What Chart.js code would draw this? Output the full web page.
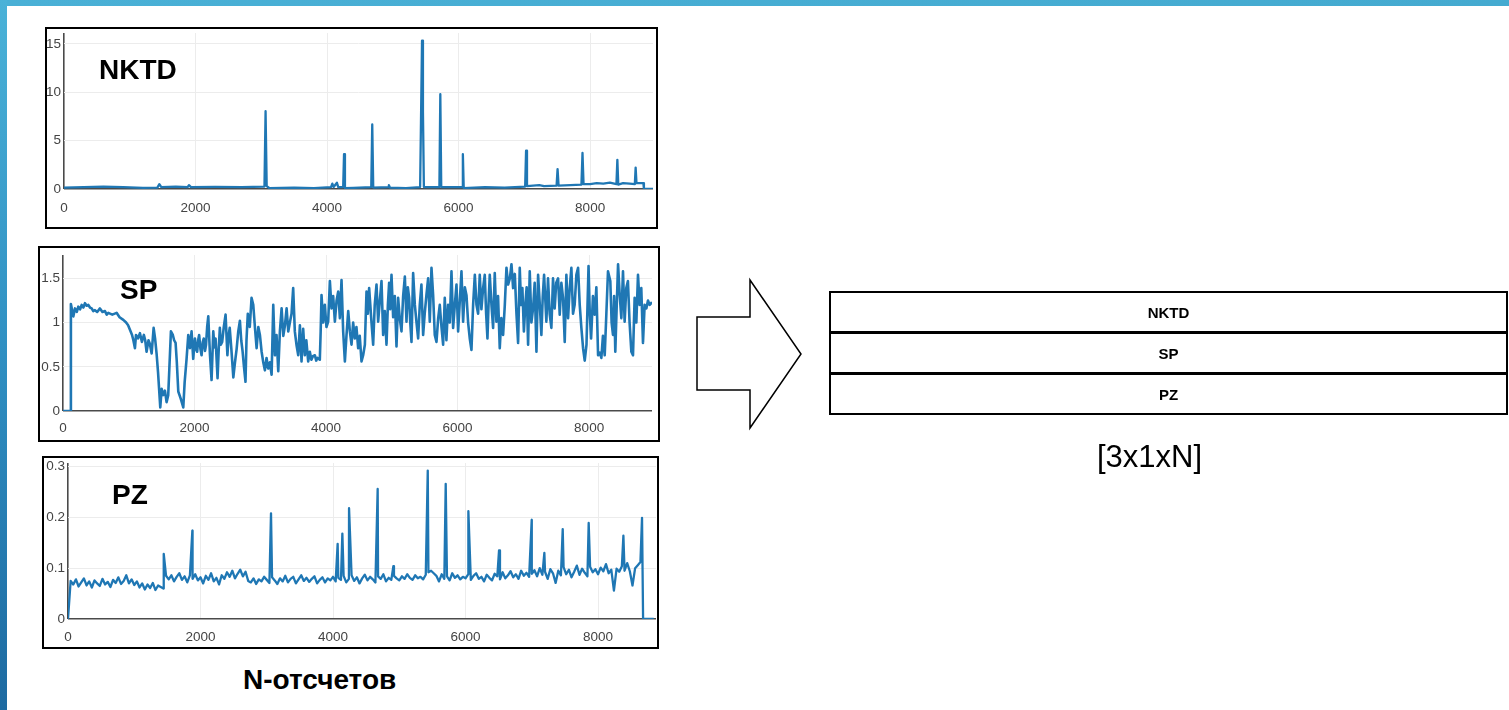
<!DOCTYPE html>
<html>
<head>
<meta charset="utf-8">
<script src="https://cdn.jsdelivr.net/npm/chart.js@4.4.1/dist/chart.umd.min.js"></script>
<style>
  html, body { margin: 0; padding: 0; background: #fff; }
  body { width: 1509px; height: 710px; position: relative; overflow: hidden; font-family: "Liberation Sans", Arial, sans-serif; }
  .abs { position: absolute; }
  .box { position: absolute; border: 2px solid #000; box-sizing: border-box; background: #fff; }
  .box canvas { position: absolute; left: 0; top: 0; }
  .title { position: absolute; font-weight: bold; font-size: 28px; line-height: 28px; color: #000; white-space: nowrap; }
  #topbar { left: 0; top: 0; width: 1509px; height: 6px; background: linear-gradient(to right, #49b0d6, #44aad0); }
  #leftbar { left: 0; top: 0; width: 7px; height: 710px; background: linear-gradient(to bottom, #4ab2d8, #2f8fc2 50%, #1d6aa1); }
  #tensor { left: 829px; top: 291px; width: 679px; height: 124px; border: 2px solid #000; box-sizing: border-box; }
  #tensor .row { height: 38px; display: flex; align-items: center; justify-content: center; font-weight: bold; font-size: 15px; color: #000; }
  #tensor .sep { height: 3px; background: #000; }
</style>
</head>
<body>
<div id="topbar" class="abs"></div>
<div id="leftbar" class="abs"></div>

<div class="box" style="left:45px; top:27px; width:613px; height:202px;"><canvas id="c1" width="609" height="198"></canvas></div>
<div class="box" style="left:38px; top:246px; width:622px; height:196px;"><canvas id="c2" width="618" height="192"></canvas></div>
<div class="box" style="left:42px; top:456px; width:617px; height:193px;"><canvas id="c3" width="613" height="189"></canvas></div>

<div class="title" style="left:99px; top:56px;">NKTD</div>
<div class="title" style="left:120px; top:276px;">SP</div>
<div class="title" style="left:112px; top:481px;">PZ</div>
<div class="title" style="left:243px; top:666px;">N-отсчетов</div>

<svg class="abs" style="left:0; top:0;" width="1509" height="710">
  <polygon points="697,317 750,317 750,280 801,354 750,428 750,390 697,390" fill="#fff" stroke="#000" stroke-width="1.5" stroke-linejoin="miter"/>
</svg>

<div id="tensor" class="abs">
  <div class="row">NKTD</div>
  <div class="sep"></div>
  <div class="row">SP</div>
  <div class="sep"></div>
  <div class="row">PZ</div>
</div>
<div class="abs" style="left:1097px; top:441px; font-size:31px; line-height:31px; color:#000; white-space:nowrap;">[3x1xN]</div>

<script>
// ---------- data ----------
const xTicks = [0, 2000, 4000, 6000, 8000];
const nktdTicks = [0, 5, 10, 15];
const spTicks = [0, 0.5, 1, 1.5];
const pzTicks = [0, 0.1, 0.2, 0.3];

const nktdX = [0,300,600,900,1200,1420,1450,1480,1700,1880,1900,1930,2300,2700,3048,3065,3082,3120,3500,3800,4060,4080,4100,4150,4170,4245,4258,4272,4400,4672,4687,4702,4930,4940,4955,5200,5415,5430,5444,5458,5472,5708,5722,5736,6052,6065,6078,6400,6700,7012,7026,7040,7227,7300,7490,7505,7520,7700,7868,7884,7900,8000,8100,8200,8300,8400,8414,8428,8500,8600,8680,8692,8705,8810,8818,8956];
const nktdY = [0.15,0.2,0.25,0.2,0.12,0.15,0.5,0.2,0.25,0.2,0.4,0.2,0.22,0.2,0.25,8.05,0.3,0.1,0.15,0.1,0.2,0.55,0.2,0.65,0.2,0.2,3.6,0.1,0.12,0.2,6.67,0.15,0.2,0.4,0.15,0.1,0.2,8.0,15.35,8.0,0.2,0.2,9.8,0.2,0.2,3.6,0.1,0.2,0.15,0.25,3.96,0.3,0.4,0.3,0.35,2.05,0.35,0.4,0.45,3.72,0.5,0.5,0.6,0.55,0.65,0.5,3.02,0.45,0.6,0.55,0.5,2.22,0.6,0.6,0.02,0.02];

// SP: [sample, value]
const spPairs = [[0,0],[110,0],[120,1.21],[157,1.07],[182,1.16],[210,1.12],[233,1.18],[260,1.15],[284,1.2],[310,1.17],[334,1.22],[360,1.19],[385,1.2],[410,1.17],[436,1.16],[460,1.13],[486,1.14],[520,1.12],[562,1.16],[600,1.12],[638,1.13],[665,1.09],[689,1.11],[750,1.09],[815,1.11],[860,1.06],[917,1.03],[960,1.0],[990,0.97],[1018,0.92],[1050,0.86],[1070,0.8],[1094,0.71],[1110,0.86],[1140,0.82],[1170,0.88],[1200,0.78],[1230,0.86],[1250,0.8],[1271,0.67],[1300,0.8],[1320,0.76],[1348,0.65],[1378,0.94],[1400,0.82],[1423,0.65],[1445,0.44],[1479,0.04],[1500,0.25],[1525,0.18],[1550,0.23],[1575,0.1],[1600,0.18],[1616,0.46],[1641,0.9],[1670,0.86],[1690,0.8],[1712,0.77],[1730,0.56],[1753,0.22],[1790,0.14],[1829,0.04],[1850,0.33],[1879,0.59],[1905,0.86],[1930,0.71],[1955,0.9],[1980,0.59],[2006,0.82],[2023,0.7],[2040,0.67],[2055,0.8],[2070,0.86],[2090,0.7],[2107,0.63],[2125,0.78],[2140,0.82],[2160,0.68],[2175,0.75],[2192,0.95],[2209,1.07],[2235,0.63],[2259,0.35],[2285,0.9],[2303,0.72],[2320,0.82],[2350,0.37],[2368,0.7],[2385,0.94],[2400,0.75],[2420,0.78],[2445,0.95],[2472,1.09],[2500,0.63],[2518,0.85],[2535,0.94],[2560,0.7],[2590,0.38],[2615,0.55],[2640,0.7],[2665,0.9],[2690,1.02],[2710,0.8],[2730,0.68],[2752,0.5],[2775,0.33],[2790,0.8],[2810,1.1],[2840,0.95],[2867,1.28],[2893,1.2],[2918,0.95],[2944,0.71],[2970,0.95],[2994,0.86],[3020,0.67],[3045,0.55],[3070,0.46],[3095,0.6],[3120,0.48],[3146,0.55],[3172,0.41],[3197,1.2],[3222,0.63],[3247,0.86],[3273,0.45],[3298,0.9],[3324,1.16],[3350,0.85],[3375,0.97],[3400,1.16],[3425,0.9],[3450,1.0],[3475,1.1],[3500,1.39],[3525,0.9],[3550,0.75],[3577,0.63],[3602,0.97],[3627,0.56],[3652,0.93],[3677,0.63],[3700,0.8],[3728,0.56],[3753,0.67],[3777,0.58],[3800,0.62],[3830,0.63],[3850,0.57],[3870,0.6],[3905,0.58],
[3918,0.9],[3931,1.31],[3956,1.0],[3981,1.2],[4006,0.95],[4032,1.01],[4058,1.47],[4083,1.16],[4108,1.3],[4134,1.01],[4160,1.25],[4185,1.35],[4210,1.05],[4235,1.48],[4260,0.9],[4286,0.56],[4310,0.85],[4337,1.13],[4362,0.9],[4387,0.75],[4412,1.0],[4437,0.82],[4462,0.95],[4488,0.71],[4512,0.85],[4539,0.56],[4564,0.63],[4590,0.75],[4615,1.35],[4635,1.1],[4655,1.39],[4690,1.01],[4716,0.75],[4740,1.2],[4767,1.43],[4792,1.01],[4818,1.25],[4843,1.47],[4868,0.86],[4893,1.13],[4919,0.75],[4940,1.2],[4959,1.45],[4975,1.15],[4995,1.54],[5020,1.06],[5045,1.3],[5071,0.73],[5096,1.28],[5120,1.05],[5147,0.9],[5172,1.3],[5198,1.52],[5223,1.01],[5243,1.4],[5263,1.28],[5280,1.0],[5299,0.78],[5324,1.56],[5350,1.2],[5374,1.01],[5400,0.82],[5425,1.2],[5450,1.43],[5476,0.86],[5500,1.1],[5526,1.31],[5552,1.5],[5577,1.01],[5603,1.62],[5628,1.31],[5653,0.86],[5679,0.78],[5705,1.05],[5729,1.2],[5755,0.95],[5780,0.75],[5805,1.28],[5830,0.8],[5855,1.2],[5881,1.0],[5907,1.58],[5932,0.94],[5958,1.2],[5983,1.43],[6008,0.9],[6034,1.25],[6059,1.58],[6084,1.01],[6110,1.4],[6135,1.31],[6160,1.0],[6185,0.82],[6211,0.69],[6236,1.2],[6262,1.54],[6287,1.2],[6312,1.1],[6337,1.54],[6362,1.15],[6388,1.39],[6413,1.54],[6434,1.1],[6454,0.82],[6470,1.2],[6489,1.54],[6515,1.2],[6540,0.94],[6565,1.56],[6590,1.01],[6615,1.3],[6641,0.71],[6665,1.05],[6692,0.86],[6718,1.2],[6743,1.62],[6768,1.43],[6795,1.5],[6819,1.66],[6844,1.39],[6870,1.55],[6895,1.1],[6920,0.77],[6945,1.62],[6965,1.2],[6985,1.39],[7008,0.9],[7030,1.2],[7050,1.4],[7072,0.75],[7097,1.58],[7122,1.0],[7148,1.16],[7172,1.45],[7199,0.67],[7224,1.54],[7250,1.2],[7274,0.86],[7295,1.3],[7315,1.54],[7350,1.01],[7375,1.5],[7400,1.1],[7426,0.94],[7451,1.5],[7476,1.16],[7500,1.45],[7528,1.5],[7553,1.09],[7578,1.45],[7603,1.28],[7629,0.78],[7654,1.54],[7680,1.05],[7705,1.39],[7730,1.62],[7755,1.1],[7780,1.2],[7806,1.54],[7832,1.62],[7857,1.2],[7882,0.94],[7908,0.71],[7933,0.57],[7960,0.75],[7991,1.64],[8010,1.1],[8030,0.82],[8058,1.3],[8085,1.09],[8110,1.4],[8136,0.63],[8161,0.66],[8186,0.6],[8210,0.85],[8237,0.63],[8262,1.1],[8287,1.58],[8322,1.47],[8342,1.0],[8363,0.86],[8380,1.3],[8398,0.67],[8420,1.2],[8440,1.66],[8465,1.31],[8490,1.05],[8515,1.58],[8540,1.01],[8565,1.39],[8590,1.47],[8615,1.0],[8642,0.67],[8667,0.63],[8692,1.28],[8718,1.0],[8743,1.54],[8768,1.2],[8793,1.39],[8819,0.77],[8844,1.2],[8870,1.16],[8895,1.25],[8920,1.2],[8956,1.23]];

// PZ: baseline sampled every pzStep counts, plus the narrow peaks
const pzStep = 40;
const pzBase = [
  0,0.075,0.068,0.078,0.064,0.072,0.08,0.066,0.074,0.062,0.076,0.07,0.065,0.079,0.068,0.073,0.063,0.077,0.071,0.082,0.069,0.075,0.086,0.07,0.078,
  0.067,0.074,0.062,0.07,0.058,0.068,0.061,0.071,0.057,0.066,0.063,0.06,0.085,0.078,0.086,0.074,0.083,0.09,0.077,0.084,0.072,0.086,0.079,0.088,0.076,
  0.082,0.07,0.085,0.077,0.09,0.074,0.081,0.068,0.086,0.079,0.092,0.083,0.095,0.08,0.089,0.097,0.084,0.093,0.075,0.072,0.08,0.069,0.078,0.074,0.083,
  0.077,0.071,0.082,0.076,0.069,0.08,0.074,0.085,0.072,0.079,0.083,0.07,0.078,0.086,0.075,0.081,0.073,0.079,0.084,0.07,0.077,0.082,0.072,0.08,0.076,
  0.083,0.074,0.081,0.077,0.085,0.072,0.079,0.086,0.075,0.082,0.07,0.08,0.087,0.076,0.083,0.078,0.072,0.084,0.079,0.088,0.074,0.081,0.077,0.085,0.08,
  0.076,0.084,0.079,0.088,0.081,0.077,0.086,0.08,0.083,0.078,0.087,0.092,0.095,0.09,0.085,0.074,0.088,0.079,0.084,0.076,0.09,0.081,0.086,0.078,0.083,
  0.08,0.088,0.077,0.085,0.09,0.079,0.083,0.074,0.087,0.081,0.076,0.089,0.084,0.078,0.092,0.08,0.086,0.094,0.082,0.088,0.079,0.095,0.085,0.091,0.083,
  0.089,0.096,0.084,0.1,0.087,0.093,0.079,0.098,0.09,0.071,0.095,0.086,0.102,0.088,0.097,0.082,0.093,0.105,0.087,0.099,0.091,0.084,0.103,0.092,0.098,
  0.088,0.101,0.094,0.108,0.09,0.097,0.056,0.099,0.093,0.104,0.095,0.11,0.094,0.066,0.1,0.106,0.112,0,0,0,0,0
];
const pzPeakX = [1445,1877,3064,4070,4141,4242,4674,4911,5430,5701,6043,6506,6999,7190,7467,7859,8383,8664];
const pzPeakY = [0.128,0.174,0.208,0.148,0.168,0.218,0.256,0.104,0.292,0.266,0.212,0.135,0.195,0.13,0.177,0.189,0.164,0.199];

// ---------- build points ----------
const nktdPts = nktdX.map((x, i) => ({ x: x, y: nktdY[i] }));
const spPts = spPairs.map(p => ({ x: p[0], y: p[1] }));
const pzPts = pzBase.map((y, i) => ({ x: i * pzStep, y: y }))
  .concat(pzPeakX.map((x, i) => ({ x: x, y: pzPeakY[i] })))
  .sort((a, b) => a.x - b.x);

function gridColor(c) { return (c.tick && c.tick.value === 0) ? '#4a4a4a' : '#ececec'; }
function gridWidth(c) { return (c.tick && c.tick.value === 0) ? 1.6 : 1; }
const tickFont = { family: 'Liberation Sans', size: 13.5 };

function lineChart(id, pts, g) {
  return new Chart(document.getElementById(id), {
    type: 'line',
    data: { datasets: [{ data: pts, borderColor: '#1f77b4', borderWidth: g.lw, pointRadius: 0, fill: false, tension: 0, borderJoinStyle: 'round' }] },
    options: {
      responsive: false, animation: false, events: [],
      layout: { padding: { left: 0, top: g.top, right: g.right, bottom: 0 } },
      plugins: { legend: { display: false }, tooltip: { enabled: false }, title: { display: false } },
      scales: {
        x: {
          type: 'linear', min: 0, max: g.xMax,
          afterBuildTicks: s => { s.ticks = xTicks.map(v => ({ value: v })); },
          afterFit: s => { s.height = g.xh; s.paddingLeft = 0; s.paddingRight = 0; },
          grid: { color: gridColor, lineWidth: gridWidth, drawTicks: false },
          border: { display: false },
          ticks: { padding: g.xPad, font: tickFont, color: '#444', maxRotation: 0, autoSkip: false, callback: v => String(v) }
        },
        y: {
          type: 'linear', min: 0, max: g.yMax,
          afterBuildTicks: s => { s.ticks = g.yTicks.map(v => ({ value: v })); },
          afterFit: s => { s.width = g.yw; s.paddingTop = 0; s.paddingBottom = 0; },
          grid: { color: gridColor, lineWidth: gridWidth, drawTicks: false },
          border: { display: false },
          ticks: { padding: 3, font: tickFont, color: '#444', autoSkip: false, callback: v => String(v) }
        }
      }
    }
  });
}

lineChart('c1', nktdPts, { lw: 2.3, top: 4, right: 3, xh: 38, yw: 17, xPad: 11, xMax: 8956, yMax: 16.13, yTicks: nktdTicks });
lineChart('c2', spPts,   { lw: 2.6, top: 7, right: 6, xh: 29, yw: 23, xPad: 9,  xMax: 8956, yMax: 1.764, yTicks: spTicks });
lineChart('c3', pzPts,   { lw: 2.3, top: 5, right: 1, xh: 28, yw: 24, xPad: 10, xMax: 8875, yMax: 0.307, yTicks: pzTicks });
</script>
</body>
</html>
